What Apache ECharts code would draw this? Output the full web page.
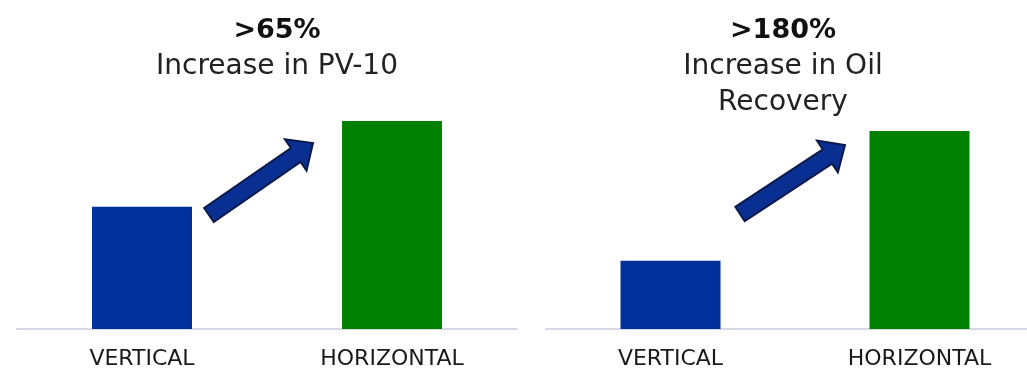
<!DOCTYPE html>
<html>
<head>
<meta charset="utf-8">
<script src="https://cdn.jsdelivr.net/npm/echarts@6/dist/echarts.min.js"></script>
<style>
  html, body { margin: 0; padding: 0; background: #ffffff; }
  #chart { width: 1027px; height: 371px; }
</style>
</head>
<body>
<div id="chart"></div>
<script>
// Well type categories shared by both panels
const categories = ['VERTICAL', 'HORIZONTAL'];
// Relative PV-10 (vertical = 100)
const pv10Values = [100, 170];
// Relative oil recovery (vertical = 100)
const oilRecoveryValues = [100, 290];
// Panel headlines and captions
const headlines = ['>65%', '>180%'];
const captions = ['Increase in PV-10', 'Increase in Oil\nRecovery'];

const BLUE = '#00309a';
const GREEN = '#008000';
const FONT = '"DejaVu Sans", "Noto Sans", sans-serif';

const chart = echarts.init(document.getElementById('chart'), null, { renderer: 'canvas' });

function xAxisFor(gridIndex) {
  return {
    type: 'category',
    gridIndex: gridIndex,
    data: categories,
    axisTick: { show: false },
    axisLine: { show: true, lineStyle: { color: '#d5d9e4', width: 2 } },
    axisLabel: { color: '#1a1a1a', fontFamily: FONT, fontSize: 22, margin: 19 }
  };
}
function yAxisFor(gridIndex, max) {
  return {
    type: 'value',
    gridIndex: gridIndex,
    min: 0,
    max: max,
    show: false,
    splitLine: { show: false }
  };
}
function barSeries(idx, values) {
  return {
    type: 'bar',
    xAxisIndex: idx,
    yAxisIndex: idx,
    barWidth: 100,
    data: values.map((v, i) => ({ value: v, itemStyle: { color: i === 0 ? BLUE : GREEN } })),
    silent: true
  };
}
function titleFor(x, i) {
  return {
    text: headlines[i],
    subtext: captions[i],
    left: x,
    top: 8,
    textAlign: 'center',
    itemGap: 0,
    textStyle: { fontFamily: FONT, fontWeight: 'bold', fontSize: 27, color: '#111111', lineHeight: 36 },
    subtextStyle: { fontFamily: FONT, fontSize: 28, color: '#222222', lineHeight: 36, align: 'center' }
  };
}

// Block arrow polygon from tail centre to tip
function arrowPoints(tx, ty, px, py, shaftHalf, headHalf, headLen) {
  const dx = px - tx, dy = py - ty, L = Math.hypot(dx, dy);
  const ux = dx / L, uy = dy / L, nx = -uy, ny = ux;
  const bx = px - ux * headLen, by = py - uy * headLen;
  return [
    [tx + nx * shaftHalf, ty + ny * shaftHalf],
    [bx + nx * shaftHalf, by + ny * shaftHalf],
    [bx + nx * headHalf, by + ny * headHalf],
    [px, py],
    [bx - nx * headHalf, by - ny * headHalf],
    [bx - nx * shaftHalf, by - ny * shaftHalf],
    [tx - nx * shaftHalf, ty - ny * shaftHalf]
  ];
}
function arrow(tx, ty, px, py) {
  return {
    type: 'polygon',
    shape: { points: arrowPoints(tx, ty, px, py, 8.5, 19, 21) },
    style: { fill: '#0a2f92', stroke: '#0b1a4a', lineWidth: 2, lineJoin: 'miter' },
    z: 10
  };
}

chart.setOption({
  animation: false,
  backgroundColor: '#ffffff',
  title: [titleFor(272, 0), titleFor(778, 1)],
  grid: [
    { left: 17, width: 500, top: 121, bottom: 42, outerBoundsMode: 'none' },
    { left: 546, width: 498, top: 131, bottom: 42, outerBoundsMode: 'none' }
  ],
  xAxis: [xAxisFor(0), xAxisFor(1)],
  yAxis: [yAxisFor(0, 170), yAxisFor(1, 290)],
  series: [barSeries(0, pv10Values), barSeries(1, oilRecoveryValues)],
  graphic: [
    arrow(209, 215, 313, 143),
    arrow(740, 214, 845, 145)
  ]
});
</script>
</body>
</html>
